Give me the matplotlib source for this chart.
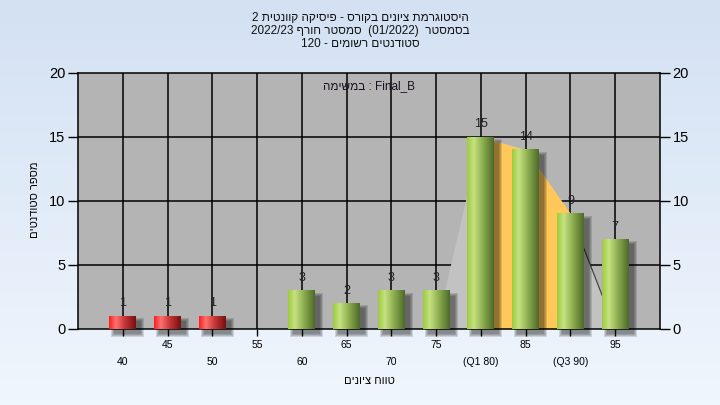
import matplotlib
matplotlib.use('Agg')
import matplotlib.pyplot as plt
import numpy as np
from matplotlib.colors import LinearSegmentedColormap
from matplotlib.patches import Rectangle, Polygon

plt.rcParams['font.family'] = ['Liberation Sans', 'DejaVu Sans']


def rtl(s):
    # visual order for a plain hebrew word
    return s[::-1]


# data
grades = [40, 45, 50, 55, 60, 65, 70, 75, 80, 85, 90, 95]
counts = [1, 1, 1, 0, 3, 2, 3, 3, 15, 14, 9, 7]
tick_labels = ['40', '45', '50', '55', '60', '65', '70', '75', '(Q1 80)', '85', '(Q3 90)', '95']
pass_grade = 55
q1, q3 = 80, 90
area_grades = [75, 80, 85, 90, 95]
area_values = [0, 15, 14, 9, 0]

title_lines = [
    '2 ' + rtl('קוונטית') + ' ' + rtl('פיסיקה') + ' - ' + rtl('בקורס') + ' ' + rtl('ציונים') + ' ' + rtl('היסטוגרמת'),
    '2022/23 ' + rtl('חורף') + ' ' + rtl('סמסטר') + '  (01/2022)  ' + rtl('בסמסטר'),
    '120 - ' + rtl('רשומים') + ' ' + rtl('סטודנטים'),
]
task_label = rtl('במשימה') + ' : Final_B'
x_title = rtl('ציונים') + ' ' + rtl('טווח')
y_title = rtl('סטודנטים') + ' ' + rtl('מספר')

bar_w = 3.0

green = LinearSegmentedColormap.from_list('g', [(0, '#9fcb3e'), (0.25, '#c6e182'), (0.55, '#93b455'), (1, '#4e6a28')])
red = LinearSegmentedColormap.from_list('r', [(0, '#ff1c1c'), (0.25, '#ff7272'), (0.6, '#c43434'), (1, '#761010')])

fig = plt.figure(figsize=(7.2, 4.05), dpi=100)

# figure background gradient
bg = fig.add_axes([0, 0, 1, 1], zorder=-5)
bg.imshow(np.linspace(0, 1, 100).reshape(-1, 1), aspect='auto', extent=[0, 1, 0, 1],
          cmap=LinearSegmentedColormap.from_list('bg', ['#d3e1f3', '#f0f6fd']))
bg.axis('off')

ax = fig.add_axes([78 / 720, 1 - 329 / 405, 582 / 720, 256 / 405])
ax.set_facecolor('#b4b4b4')

# grid under everything
for g in grades:
    ax.axvline(g, color='black', lw=1.1, zorder=0.5)
for v in [5, 10, 15]:
    ax.axhline(v, color='black', lw=1.1, zorder=0.5)

# area behind the bars, inter-quartile part in orange
ax.add_patch(Polygon(list(zip(area_grades, area_values)), closed=True, facecolor='#c2c2c2',
                     edgecolor='none', zorder=1))
ax.plot(area_grades[-2:], area_values[-2:], color='#3a3a3a', lw=0.8, zorder=1.2)
xa = np.array(area_grades, dtype=float)
ya = np.array(area_values, dtype=float)
mask = (xa >= q1) & (xa <= q3)
ax.fill_between(xa[mask], 0, ya[mask], color='#ffc858', lw=0, zorder=1.1)

grad = np.linspace(0, 1, 64).reshape(1, -1)
px_x = 13 / 582  # one pixel in x data units
px_x = (100 - 35) / 582
px_y = 20 / 256
for g, c in zip(grades, counts):
    if c == 0:
        continue
    # soft shadow
    for i in range(4):
        pad = (3 - i) * 1.0
        ax.add_patch(Rectangle((g - bar_w / 2 + 5 * px_x - pad * px_x, -5 * px_y - pad * px_y),
                               bar_w + 2 * pad * px_x, c + 2 * pad * px_y,
                               facecolor='black', alpha=0.13, lw=0, zorder=2, clip_on=False))
    cmap = red if g < pass_grade else green
    ax.imshow(grad, aspect='auto', cmap=cmap, extent=[g - bar_w / 2, g + bar_w / 2, 0, c],
              zorder=3, interpolation='bilinear')
    ax.text(g, c + 1.0, str(c), ha='center', va='center', fontsize=9, color='#222222', zorder=4)

ax.set_xlim(35, 100)
ax.set_ylim(0, 20)
ax.set_xticks(grades)
ax.set_xticklabels([])
ax.set_yticks([0, 5, 10, 15, 20])
ax.tick_params(axis='y', which='both', left=True, right=True, labelleft=True, labelright=True,
               length=7, width=1, direction='out', labelsize=10.5, pad=2)
ax.tick_params(axis='x', length=5, width=1, direction='out')
for s in ax.spines.values():
    s.set_color('black')
    s.set_linewidth(1.1)

# alternating two-row x labels
for i, (g, lab) in enumerate(zip(grades, tick_labels)):
    y = -0.129 if i % 2 == 0 else -0.0625
    ax.text(g, y, lab, transform=ax.get_xaxis_transform(), ha='center', va='center', fontsize=7.5)

ax.text(0.5, -0.203, x_title, transform=ax.transAxes, ha='center', va='center', fontsize=8)
fig.text(35 / 720, 1 - 200 / 405, y_title, rotation=90, ha='center', va='center', fontsize=8)
ax.text(0.5, 0.949, task_label, transform=ax.transAxes, ha='center', va='center', fontsize=8.5,
        color='#1a1020', zorder=5)

for k, line in enumerate(title_lines):
    fig.text(0.5, 1 - (18 + 13 * k) / 405, line, ha='center', va='center', fontsize=8.5,
             color='#111111')

fig.savefig('out.png', dpi=100)
